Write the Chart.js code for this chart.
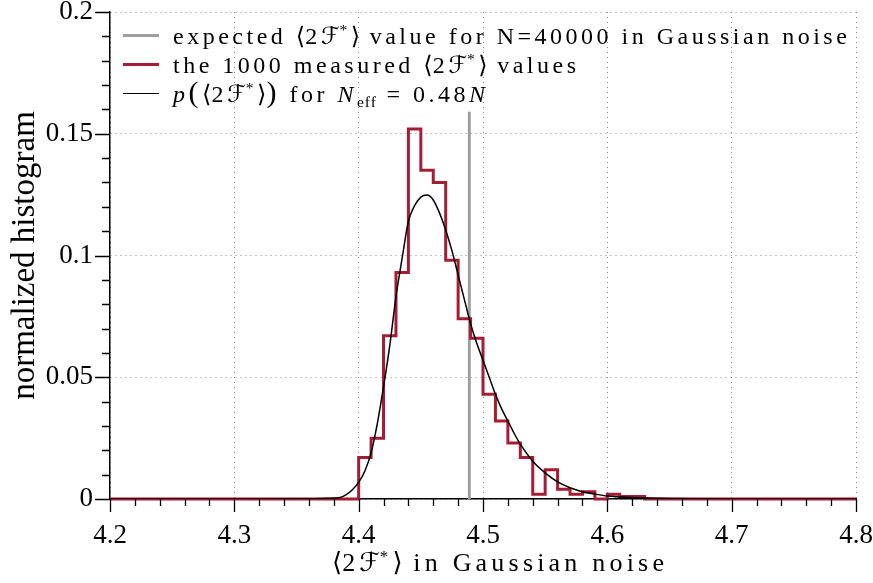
<!DOCTYPE html>
<html>
<head>
<meta charset="utf-8">
<script src="https://cdn.jsdelivr.net/npm/chart.js@4.4.0/dist/chart.umd.min.js"></script>
<style>
  html, body { margin: 0; padding: 0; background: #fff; }
  #wrap { position: relative; width: 873px; height: 583px; }
  #chart { position: absolute; left: 0; top: 0; }
  .cm { font-family: 'Liberation Serif', serif; color: #000; white-space: nowrap; }
  .calF { font-family: 'DejaVu Serif', 'DejaVu Sans', serif; font-style: italic; letter-spacing: 0; }
  .ang { font-family: 'DejaVu Sans', serif; letter-spacing: 0; }
  .cm sup { font-size: 0.65em; vertical-align: 0.55em; line-height: 0; }
  .cm sub { font-size: 0.65em; vertical-align: -0.3em; line-height: 0; letter-spacing: 1px; }
  .big { font-size: 1.25em; line-height: 0; }
  #legend { position: absolute; left: 123px; top: 21px; font-size: 24px; letter-spacing: 3.5px; }
  .row { height: 29px; display: flex; align-items: center; }
  .swatch { width: 36px; height: 0; margin-right: 14px; }
  #xtitle { position: absolute; left: 332px; top: 547px; line-height: 30px; font-size: 26px; letter-spacing: 4.2px; }
</style>
</head>
<body>
<div id="wrap">
  <canvas id="chart" width="873" height="583"></canvas>
  <div id="legend" class="cm">
    <div class="row"><span class="swatch" id="sw-expected"></span><span>expected <span class="ang">⟨</span>2<span class="calF">ℱ</span><sup>*</sup><span class="ang">⟩</span> value for N=40000 in Gaussian noise</span></div>
    <div class="row"><span class="swatch" id="sw-hist"></span><span>the 1000 measured <span class="ang">⟨</span>2<span class="calF">ℱ</span><sup>*</sup><span class="ang">⟩</span> values</span></div>
    <div class="row"><span class="swatch" id="sw-curve"></span><span><i>p</i><span class="big">(</span><span class="ang">⟨</span>2<span class="calF">ℱ</span><sup>*</sup><span class="ang">⟩</span><span class="big">)</span> for <i>N</i><sub>eff</sub> = 0.48<i>N</i></span></div>
  </div>
  <div id="xtitle" class="cm"><span class="ang">⟨</span>2<span class="calF">ℱ</span><sup>*</sup><span class="ang">⟩</span> in Gaussian noise</div>
</div>
<script>
// histogram of the 1000 measured values, bins of 0.01 (left edges + closing edge)
const binEdges = [4.40, 4.41, 4.42, 4.43, 4.44, 4.45, 4.46, 4.47, 4.48, 4.49, 4.50, 4.51,
                  4.52, 4.53, 4.54, 4.55, 4.56, 4.57, 4.58, 4.59, 4.60, 4.61, 4.62, 4.63];
const binValues = [0.017, 0.025, 0.067, 0.093, 0.152, 0.135, 0.130, 0.098, 0.074, 0.066, 0.043, 0.032,
                   0.023, 0.017, 0.002, 0.012, 0.004, 0.002, 0.003, 0.000, 0.002, 0.001, 0.001];

// p(<2F*>) for N_eff = 0.48 N
const curveX = [4.20, 4.30, 4.36, 4.375, 4.385, 4.39, 4.395, 4.40, 4.405, 4.41, 4.415, 4.42, 4.425, 4.43, 4.435,
                4.44, 4.445, 4.45, 4.455, 4.46, 4.465, 4.47, 4.475, 4.48, 4.485, 4.49, 4.495, 4.50, 4.505, 4.51,
                4.515, 4.52, 4.525, 4.53, 4.54, 4.55, 4.56, 4.57, 4.58, 4.59, 4.60, 4.62, 4.65, 4.70, 4.80];
const curveY = [0, 0, 0.0001, 0.0003, 0.0006, 0.0018, 0.0038, 0.0068, 0.0115, 0.019, 0.031, 0.046, 0.063, 0.083, 0.099,
                0.114, 0.1205, 0.124, 0.1248, 0.1228, 0.1175, 0.1105, 0.102, 0.092, 0.082, 0.072, 0.064, 0.057, 0.050, 0.043,
                0.037, 0.032, 0.027, 0.0225, 0.0155, 0.0107, 0.007, 0.0046, 0.003, 0.002, 0.0012, 0.0006, 0.0002, 0, 0];

// expected <2F*> for N=40000
const expectedX = [4.489, 4.489];
const expectedY = [0, 0.159];

const xRange = [4.2, 4.8];
const yRange = [0, 0.2];
const xMajor = 0.1, xMinor = 0.02;
const yMajor = 0.05, yMinor = 0.01;

const COLORS = { hist: '#a51c35', curve: '#000000', expected: '#9f9f9f', grid: '#8a8a8a' };

document.getElementById('sw-expected').style.borderTop = `3px solid ${COLORS.expected}`;
document.getElementById('sw-hist').style.borderTop = `3px solid ${COLORS.hist}`;
document.getElementById('sw-curve').style.borderTop = `1.5px solid ${COLORS.curve}`;

const isMultiple = (v, step) => Math.abs(v / step - Math.round(v / step)) < 1e-6;

// histogram as a stepped line running along the whole x range
const histPoints = [{ x: xRange[0], y: 0 }]
  .concat(binValues.map((v, i) => ({ x: binEdges[i], y: v })))
  .concat([{ x: binEdges[binEdges.length - 1], y: 0 }, { x: xRange[1], y: 0 }]);

const curvePoints = curveX.map((x, i) => ({ x, y: curveY[i] }));
const expectedPoints = expectedX.map((x, i) => ({ x, y: expectedY[i] }));

// outside tick marks, long on majors, short on minors
const tickMarks = {
  id: 'tickMarks',
  afterDraw(chart) {
    const { ctx, scales: { x, y } } = chart;
    ctx.save();
    ctx.strokeStyle = '#000';
    ctx.lineWidth = 1.3;
    ctx.beginPath();
    x.ticks.forEach(t => {
      const px = Math.round(x.getPixelForValue(t.value)) + 0.5;
      const len = isMultiple(t.value, xMajor) ? 13 : 7;
      ctx.moveTo(px, x.top);
      ctx.lineTo(px, x.top + len);
    });
    y.ticks.forEach(t => {
      const py = Math.round(y.getPixelForValue(t.value)) + 0.5;
      const len = isMultiple(t.value, yMajor) ? 15 : 8;
      ctx.moveTo(y.right, py);
      ctx.lineTo(y.right - len, py);
    });
    ctx.stroke();
    ctx.restore();
  }
};

const tickFont = { family: 'Liberation Serif', size: 27 };

new Chart(document.getElementById('chart'), {
  type: 'line',
  data: {
    datasets: [
      {
        label: 'p(<2F*>) for N_eff = 0.48N',
        data: curvePoints,
        borderColor: COLORS.curve,
        borderWidth: 1.5,
        pointRadius: 0,
        cubicInterpolationMode: 'monotone',
        fill: false
      },
      {
        label: 'the 1000 measured <2F*> values',
        data: histPoints,
        borderColor: COLORS.hist,
        borderWidth: 3,
        pointRadius: 0,
        stepped: true,
        fill: false,
        clip: 4
      },
      {
        label: 'expected <2F*> value for N=40000 in Gaussian noise',
        data: expectedPoints,
        borderColor: COLORS.expected,
        borderWidth: 3,
        pointRadius: 0,
        fill: false
      }
    ]
  },
  options: {
    responsive: false,
    animation: false,
    devicePixelRatio: 1,
    layout: { padding: { top: 12, right: 17, left: 0, bottom: 0 } },
    plugins: { legend: { display: false }, tooltip: { enabled: false } },
    scales: {
      x: {
        type: 'linear',
        min: xRange[0],
        max: xRange[1],
        afterFit: s => { s.height = 84; s.paddingLeft = 0; s.paddingRight = 0; },
        ticks: {
          stepSize: xMinor,
          autoSkip: false,
          maxRotation: 0,
          padding: 21,
          color: '#000',
          font: tickFont,
          callback: v => isMultiple(v, xMajor) ? v.toFixed(1) : ''
        },
        grid: {
          drawTicks: false,
          lineWidth: 1,
          color: c => (c.tick && isMultiple(c.tick.value, xMajor)) ? COLORS.grid : 'rgba(0,0,0,0)'
        },
        border: { display: true, color: '#000', width: 1.5, dash: [1, 4] }
      },
      y: {
        type: 'linear',
        min: yRange[0],
        max: yRange[1],
        afterFit: s => { s.width = 110; s.paddingTop = 0; s.paddingBottom = 0; },
        ticks: {
          stepSize: yMinor,
          autoSkip: false,
          padding: 17,
          color: '#000',
          font: tickFont,
          callback: v => isMultiple(v, yMajor) ? String(Math.round(v * 100) / 100) : ''
        },
        grid: {
          drawTicks: false,
          lineWidth: 1,
          color: c => (c.tick && isMultiple(c.tick.value, yMajor)) ? COLORS.grid : 'rgba(0,0,0,0)'
        },
        border: { display: true, color: '#000', width: 1.5, dash: [1, 4] },
        title: {
          display: true,
          text: 'normalized histogram',
          color: '#000',
          font: { family: 'Liberation Serif', size: 33 },
          padding: { top: 6, bottom: 0 }
        }
      }
    }
  },
  plugins: [tickMarks]
});
</script>
</body>
</html>
